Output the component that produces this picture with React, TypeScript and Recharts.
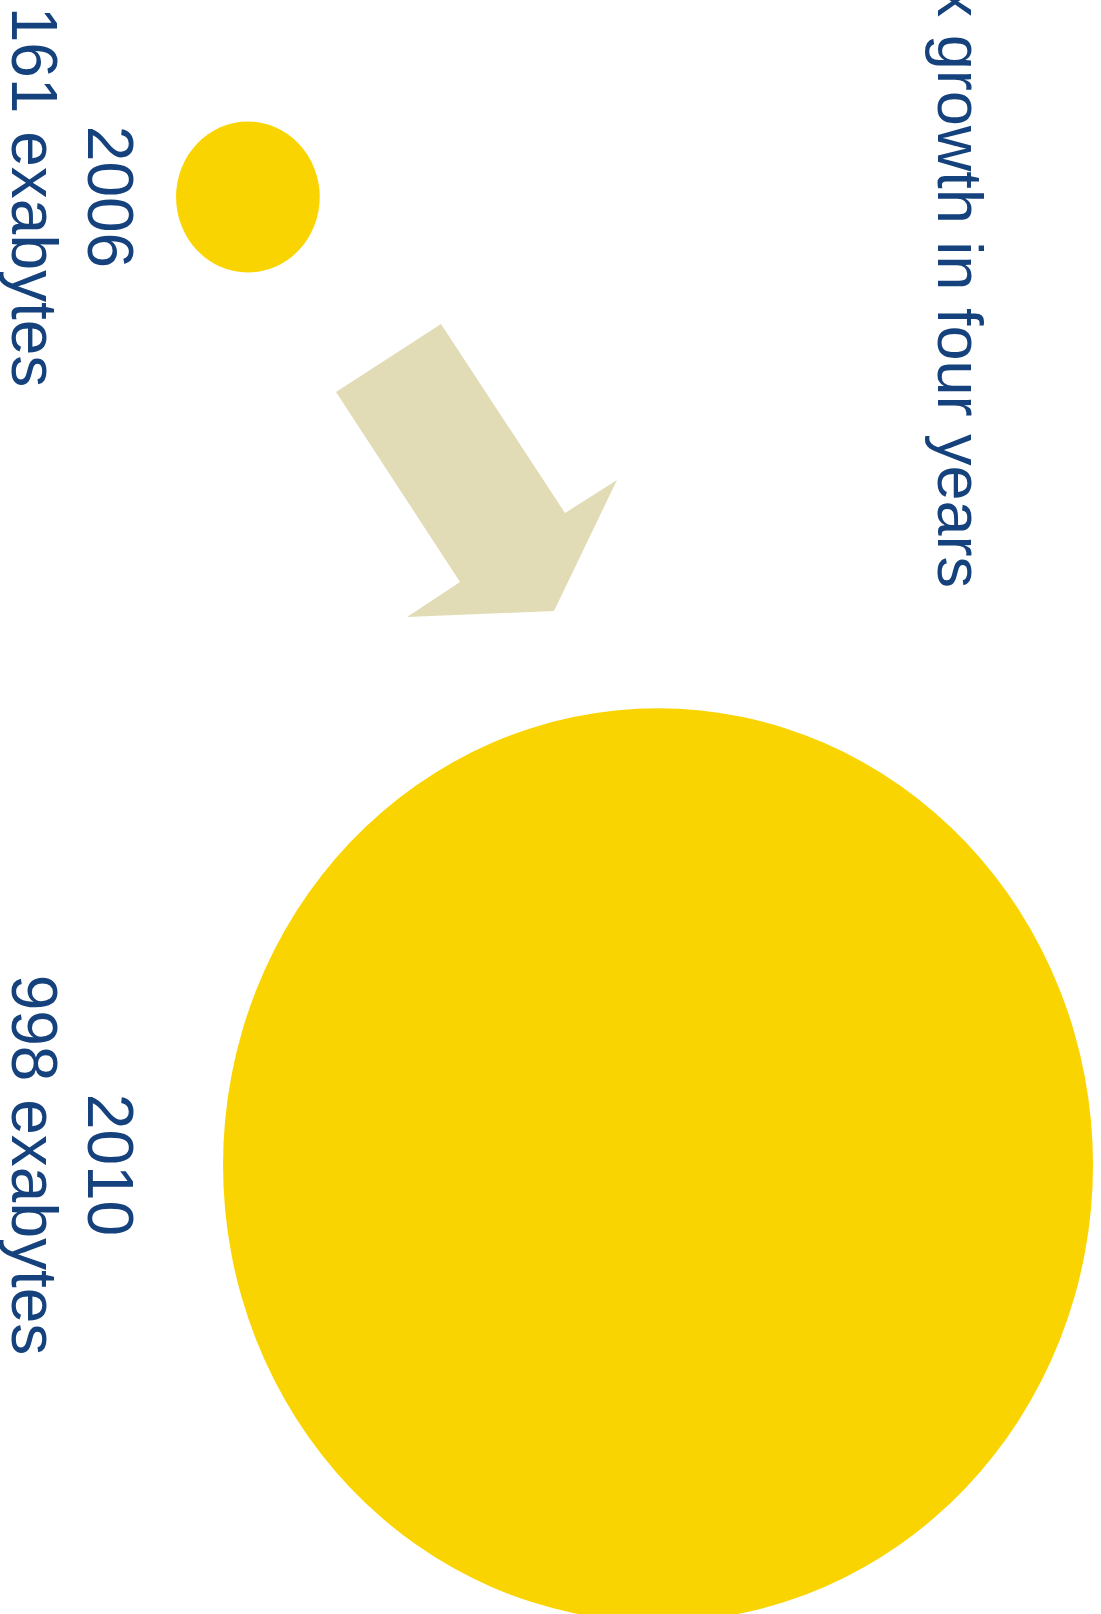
import React from 'react';
import { ScatterChart, Scatter, XAxis, YAxis, ZAxis, Customized } from 'recharts';

const years = [2006, 2010];
const exabytes = [161, 998];
const unit = 'exabytes';
const title = '6x growth in four years';

const NAVY = '#15427C';
const YELLOW = '#FAD400';
const ARROW = '#E2DCB6';
const FONT = '"Liberation Sans", Arial, Helvetica, sans-serif';

const chartData = years.map((year, index) => ({
  year,
  value: exabytes[index],
}));

// decorative arrow between the two bubbles
const arrowPoints = '336,392 441,324 565,513 617,480 554,611 407,617 460,582';

function Bubble(props: any) {
  const { cx, cy, payload, width } = props;
  const size = props.size != null ? props.size : Math.PI * Math.pow((width || 0) / 2, 2);
  const rx = size;
  const ry = size * 1.05;
  return (
    <g>
      <ellipse cx={cx} cy={cy} rx={rx} ry={ry} fill={YELLOW} />
      <text
        transform={`translate(88, ${cy}) rotate(90)`}
        textAnchor="middle"
        fontFamily={FONT}
        fontSize={64}
        fill={NAVY}
      >
        {payload.year}
      </text>
      <text
        transform={`translate(12, ${cy}) rotate(90)`}
        textAnchor="middle"
        fontFamily={FONT}
        fontSize={64}
        fill={NAVY}
      >
        {`${payload.value} ${unit}`}
      </text>
    </g>
  );
}

function Decorations() {
  return (
    <g>
      <polygon points={arrowPoints} fill={ARROW} />
      <text
        transform="translate(938, 588) rotate(90)"
        textAnchor="end"
        fontFamily={FONT}
        fontSize={63}
        fill={NAVY}
      >
        {title}
      </text>
    </g>
  );
}

export default function App() {
  return (
    <div style={{ position: 'absolute', left: 0, top: 0, background: '#fff' }}>
      <ScatterChart
        width={1101}
        height={1614}
        margin={{ top: 197, right: 442, bottom: 449, left: 169 }}
      >
        <XAxis type="number" dataKey="value" domain={[0, 1000]} hide />
        <YAxis type="number" dataKey="year" domain={[2006, 2010]} reversed hide />
        <ZAxis type="number" dataKey="value" domain={[0, 998]} range={[2, 435]} />
        <Customized component={Decorations} />
        <Scatter data={chartData} shape={<Bubble />} isAnimationActive={false} />
      </ScatterChart>
    </div>
  );
}
